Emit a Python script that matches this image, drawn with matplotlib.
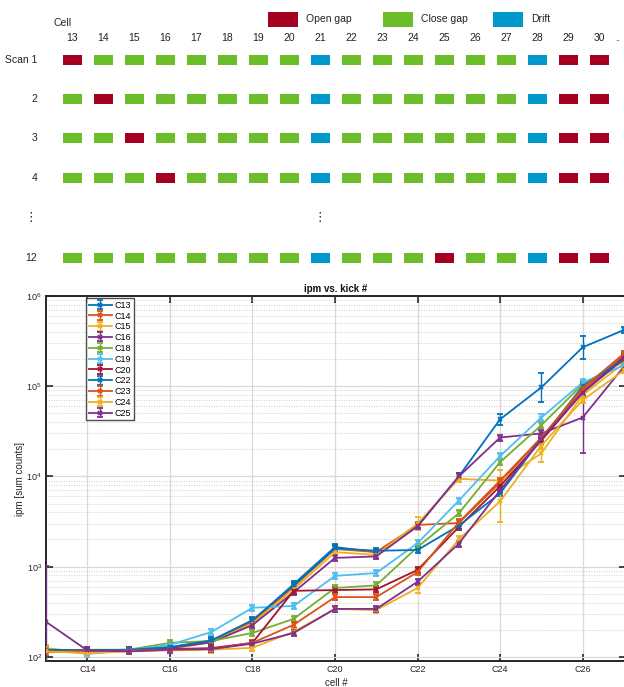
import matplotlib
matplotlib.use("Agg")
import matplotlib.pyplot as plt
from matplotlib.patches import Rectangle
from matplotlib.ticker import LogLocator, NullFormatter, FixedLocator, FixedFormatter

plt.rcParams['font.family'] = ['Liberation Sans', 'DejaVu Sans']

# ---------------- gap layout per scan ----------------
layout_cells = list(range(13, 31))
scan_labels = ["Scan 1", "2", "3", "4", "12"]
scan_states = [
    "OCCCCCCCDCCCCCCDOO",
    "COCCCCCCDCCCCCCDOO",
    "CCOCCCCCDCCCCCCDOO",
    "CCCOCCCCDCCCCCCDOO",
    "CCCCCCCCDCCCOCCDOO",
]
state_keys = ["O", "C", "D"]
state_names = ["Open gap", "Close gap", "Drift"]
state_colors = ["#A50021", "#6BBE2A", "#0099CC"]

# ---------------- ipm measurements ----------------
kick_cells = list(range(13, 28))
series_names = ["C13", "C14", "C15", "C16", "C18", "C19", "C20",
                "C22", "C23", "C24", "C25"]
ipm_C13 = [118, 118, 118, 128, 150, 250, 640, 1650, 1450, 2800, 10000, 43000, 97000, 270000, 420000]
ipm_C14 = [115, 115, 117, 125, 148, 245, 600, 1570, 1450, 2900, 3050, 8500, 27000, 90000, 220000]
ipm_C15 = [125, 112, 118, 122, 145, 235, 560, 1450, 1350, 3000, 9400, 9000, 18000, 80000, 180000]
ipm_C16 = [120, 118, 118, 125, 145, 225, 520, 1250, 1300, 2800, 10000, 27000, 30000, 45000, 165000]
ipm_C18 = [118, 120, 120, 143, 150, 184, 264, 580, 620, 1650, 3900, 14400, 37000, 105000, 190000]
ipm_C19 = [120, 108, 118, 136, 188, 350, 367, 790, 850, 1820, 5400, 16800, 45000, 110000, 170000]
ipm_C20 = [117, 118, 118, 122, 125, 143, 540, 550, 560, 920, 2750, 7800, 25000, 85000, 210000]
ipm_C22 = [120, 118, 120, 128, 152, 255, 620, 1600, 1500, 1530, 2850, 6500, 26000, 100000, 200000]
ipm_C23 = [113, 116, 117, 120, 122, 143, 227, 460, 460, 870, 3100, 9000, 27000, 95000, 230000]
ipm_C24 = [115, 110, 115, 118, 120, 126, 190, 340, 330, 580, 2000, 5300, 22000, 70000, 150000]
ipm_C25 = [245, 118, 115, 120, 122, 140, 184, 340, 340, 680, 1800, 7000, 26000, 85000, 200000]
ipm_series = [ipm_C13, ipm_C14, ipm_C15, ipm_C16, ipm_C18, ipm_C19, ipm_C20,
              ipm_C22, ipm_C23, ipm_C24, ipm_C25]

# relative spread of the measurements (typical, plus the noisy points)
typical_rel_err = 0.08
noisy_rel_err = {
    ("C25", 13): 3.1,
    ("C13", 24): 0.15, ("C13", 25): 0.45, ("C13", 26): 0.35,
    ("C16", 26): 1.5,
    ("C15", 24): 0.3, ("C15", 25): 0.25,
    ("C24", 24): 0.7, ("C24", 22): 0.15,
    ("C15", 22): 0.18,
}

series_colors = ["#0072BD", "#D95319", "#EDB120", "#7E2F8E", "#77AC30",
                 "#4DBEEE", "#A2142F", "#0072BD", "#D95319", "#EDB120", "#7E2F8E"]

W, H = 624, 687
fig = plt.figure(figsize=(W / 100, H / 100), dpi=100)

# ---------------- schematic (pixel coordinates) ----------------
top_h = 282
sch = fig.add_axes([0, 1 - top_h / H, 1, top_h / H])
sch.set_xlim(0, W)
sch.set_ylim(top_h, 0)
sch.axis("off")

col_x0, col_step = 72, 31.0
row_y = [60, 99, 138, 178, 258]
dots_y = 218
rect_w, rect_h = 19, 10
txt_kw = dict(fontsize=7.5, color="#222222")

sch.text(54, 23, "Cell", ha="left", va="center", **txt_kw)
for i, c in enumerate(layout_cells):
    sch.text(col_x0 + i * col_step, 38, str(c), ha="center", va="center", **txt_kw)
sch.text(615, 38, "..", ha="left", va="center", fontsize=7, color="#222222")

for lab, states, y in zip(scan_labels, scan_states, row_y):
    sch.text(37, y, lab, ha="right", va="center", **txt_kw)
    for i, s in enumerate(states):
        color = state_colors[state_keys.index(s)]
        sch.add_patch(Rectangle((col_x0 + i * col_step - rect_w / 2, y - rect_h / 2),
                                rect_w, rect_h, facecolor=color, edgecolor="none"))
sch.text(37, dots_y, "\u22ee", ha="right", va="center", fontsize=9, color="#222222")
sch.text(col_x0 + 8 * col_step, dots_y, "\u22ee", ha="center", va="center",
         fontsize=9, color="#222222")

legend_x = [268, 383, 493]
for x0, name, color in zip(legend_x, state_names, state_colors):
    sch.add_patch(Rectangle((x0, 12), 30, 15, facecolor=color, edgecolor="none"))
    sch.text(x0 + 38, 19.5, name, ha="left", va="center", **txt_kw)

# ---------------- ipm vs. kick plot ----------------
ax_left, ax_right, ax_top, ax_bottom = 46, 626, 296, 661
ax = fig.add_axes([ax_left / W, 1 - ax_bottom / H,
                   (ax_right - ax_left) / W, (ax_bottom - ax_top) / H])

for name, vals, color in zip(series_names, ipm_series, series_colors):
    lo, hi = [], []
    for c, v in zip(kick_cells, vals):
        r = noisy_rel_err.get((name, c), typical_rel_err)
        hi.append(v * r)
        lo.append(v * (1 - 1 / (1 + r)))
    ax.errorbar(kick_cells, vals, yerr=[lo, hi], color=color, lw=1.3,
                marker="x", ms=3.5, mew=1.3, capsize=2.2, elinewidth=1.0,
                label=name, zorder=3)

ax.set_yscale("log")
ax.set_ylim(90, 1e6)
ax.set_xlim(13, 27.05)

ax.xaxis.set_major_locator(FixedLocator([14, 16, 18, 20, 22, 24, 26]))
ax.xaxis.set_major_formatter(FixedFormatter(["C14", "C16", "C18", "C20", "C22", "C24", "C26"]))
ax.yaxis.set_major_locator(LogLocator(base=10, numticks=10))
ax.yaxis.set_minor_locator(LogLocator(base=10, subs=range(2, 10), numticks=20))
ax.yaxis.set_minor_formatter(NullFormatter())

ax.grid(True, which="major", color="#d9d9d9", lw=0.9, ls="-")
ax.grid(True, which="minor", axis="y", color="#bdbdbd", lw=0.6, ls=(0, (1, 2)))
ax.set_axisbelow(True)

for sp in ax.spines.values():
    sp.set_color("#262626")
    sp.set_linewidth(1.4)
ax.tick_params(which="major", direction="in", length=5, width=1.2, color="#262626",
               top=True, right=True, labelsize=6.5, labelcolor="#262626", pad=3)
ax.tick_params(which="minor", direction="in", length=0, top=True, right=True)

ax.set_title("ipm vs. kick #", fontsize=7, fontweight="bold", pad=3, color="#111111")
ax.set_ylabel("ipm [sum counts]", fontsize=7, color="#262626", labelpad=1)
ax.set_xlabel("cell #", fontsize=7, color="#262626", labelpad=3)

leg = ax.legend(loc="upper left", bbox_to_anchor=(86 / W, 1 - 298 / H),
                bbox_transform=fig.transFigure, fontsize=6.5, frameon=True,
                fancybox=False, borderpad=0.3, labelspacing=0.2,
                handlelength=2.6, handletextpad=0.3, borderaxespad=0)
leg.get_frame().set_edgecolor("#222222")
leg.get_frame().set_linewidth(1.0)
leg.set_zorder(5)

fig.savefig("out.png", dpi=100)
